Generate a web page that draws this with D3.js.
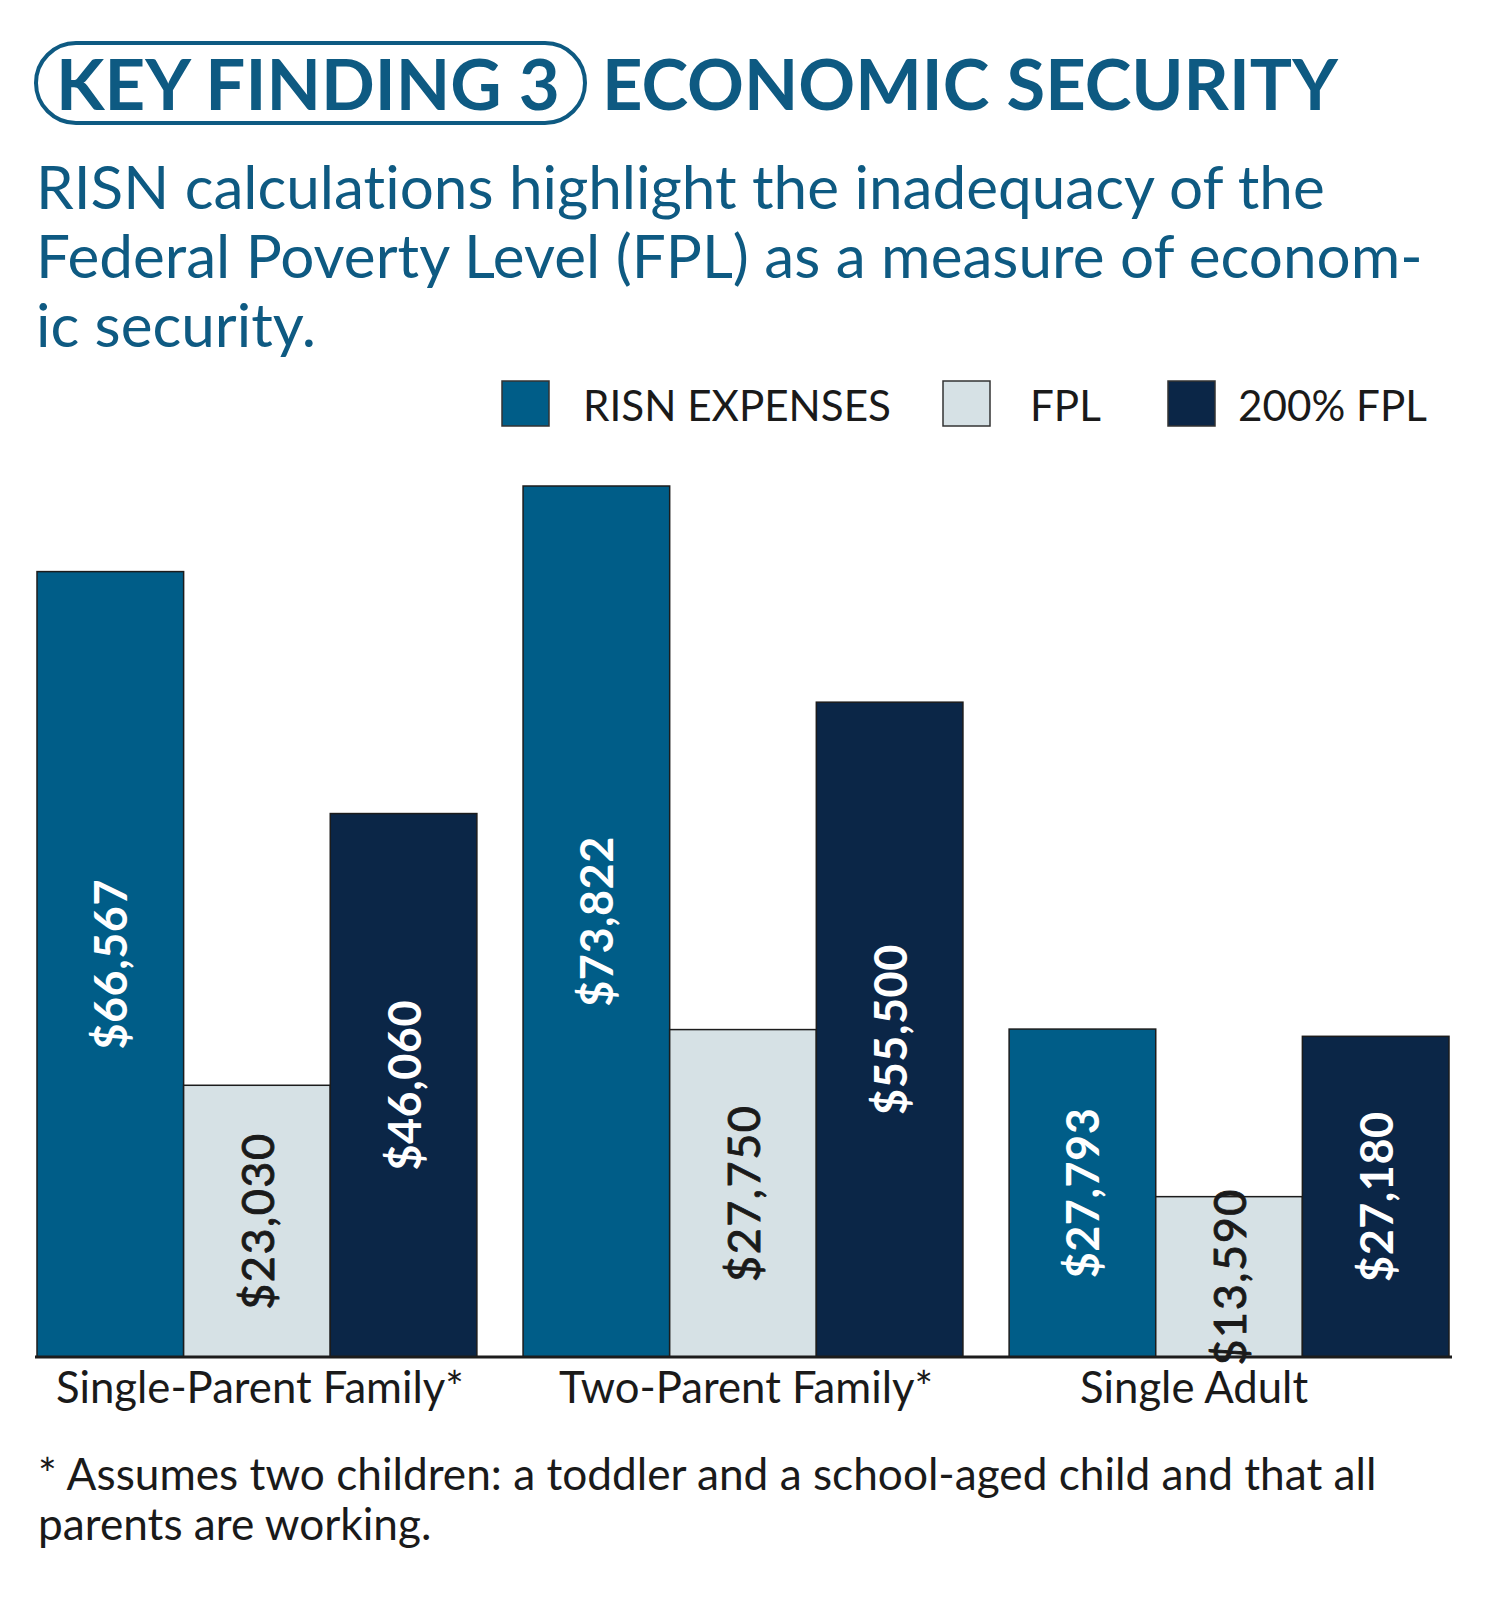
<!DOCTYPE html>
<html>
<head>
<meta charset="utf-8">
<script src="https://cdn.jsdelivr.net/npm/d3@7"></script>
<style>
  html, body { margin: 0; padding: 0; background: #fff; }
  svg { display: block; font-family: Lato, "Open Sans", sans-serif; font-variant-ligatures: none; }
</style>
</head>
<body>
<svg id="chart" width="1485" height="1600"></svg>
<script>
// data
const categories = ["Single-Parent Family*", "Two-Parent Family*", "Single Adult"];
const seriesNames = ["RISN EXPENSES", "FPL", "200% FPL"];
const risnExpenses = [66567, 73822, 27793];
const fpl = [23030, 27750, 13590];
const fpl200 = [46060, 55500, 27180];
const subtitleLines = [
  "RISN calculations highlight the inadequacy of the",
  "Federal Poverty Level (FPL) as a measure of econom-",
  "ic security."
];
const footnoteLines = [
  "* Assumes two children: a toddler and a school-aged child and that all",
  "parents are working."
];

const colors = ["#005d88", "#d6e1e5", "#0b2647"];
const teal = "#0e5a82";
const svg = d3.select("#chart");

// scale a text's font-size so it spans the given width
function fit(sel, width) {
  const fs = parseFloat(sel.attr("font-size"));
  const w = sel.node().getComputedTextLength();
  const nfs = fs * width / w;
  sel.attr("font-size", nfs);
  return nfs;
}

// ---- heading
svg.append("rect")
  .attr("x", 36).attr("y", 43).attr("width", 549).attr("height", 80)
  .attr("rx", 40).attr("fill", "none").attr("stroke", teal).attr("stroke-width", 4);
const k = svg.append("text").attr("x", 56).attr("y", 110)
  .attr("font-size", 76).attr("font-weight", 700).attr("fill", teal)
  .text("KEY FINDING 3");
fit(k, 504);
const eco = svg.append("text").attr("x", 602).attr("y", 110)
  .attr("font-size", 76).attr("font-weight", 700).attr("fill", teal)
  .text("ECONOMIC SECURITY");
fit(eco, 736);

const sub = svg.append("g").attr("fill", teal);
const subT = sub.selectAll("text").data(subtitleLines).join("text")
  .attr("x", 36).attr("y", (d, i) => 209 + i * 69)
  .attr("font-size", 58)
  .text(d => d);
const subSize = fit(d3.select(subT.nodes()[1]), 1387);
subT.attr("font-size", subSize);

// ---- legend
const legX = [502, 943, 1168];
const textX = [583, 1030, 1238];
const leg = svg.append("g");
leg.selectAll("rect").data(seriesNames).join("rect")
  .attr("x", (d, i) => legX[i]).attr("y", 381)
  .attr("width", 47).attr("height", 45)
  .attr("fill", (d, i) => colors[i]).attr("stroke", "#333").attr("stroke-width", 1.5);
const legT = leg.selectAll("text").data(seriesNames).join("text")
  .attr("x", (d, i) => textX[i]).attr("y", 421)
  .attr("font-size", 44).attr("fill", "#1a1a1a")
  .text(d => d);
const legSize = fit(d3.select(legT.nodes()[0]), 308);
legT.attr("font-size", legSize);

// ---- bars
const table = categories.map((c, i) => ({
  cat: c,
  values: [risnExpenses[i], fpl[i], fpl200[i]]
}));

const x0 = d3.scaleBand().domain(categories).range([37, 1449]).paddingInner(0.095);
const x1 = d3.scaleBand().domain(seriesNames).range([0, x0.bandwidth()]);
const y = d3.scaleLinear().domain([0, d3.max(risnExpenses)]).range([1357, 486]);

const groups = svg.append("g").selectAll("g").data(table).join("g")
  .attr("transform", d => `translate(${x0(d.cat)},0)`);

const cells = groups.selectAll("g").data(d => d.values.map((v, i) => ({ name: seriesNames[i], v, i })))
  .join("g");

cells.append("rect")
  .attr("x", d => x1(d.name))
  .attr("y", d => y(d.v))
  .attr("width", x1.bandwidth())
  .attr("height", d => y(0) - y(d.v))
  .attr("fill", d => colors[d.i])
  .attr("stroke", "#1c1c1c").attr("stroke-width", 1.5);

cells.append("text")
  .attr("transform", d => `translate(${x1(d.name) + x1.bandwidth() / 2},${(y(d.v) + y(0)) / 2}) rotate(-90)`)
  .attr("text-anchor", "middle").attr("dominant-baseline", "central")
  .attr("font-size", 45)
  .attr("font-weight", d => d.i === 1 ? 400 : 700)
  .attr("letter-spacing", d => d.i === 1 ? 1.5 : 0.5)
  .attr("fill", d => d.i === 1 ? "#1a1a1a" : "#fff")
  .attr("stroke", d => d.i === 1 ? "#1a1a1a" : "none")
  .attr("stroke-width", 0.9)
  .text(d => d3.format("$,")(d.v));

// baseline
svg.append("line")
  .attr("x1", 35).attr("x2", 1452).attr("y1", y(0)).attr("y2", y(0))
  .attr("stroke", "#1c1c1c").attr("stroke-width", 3);

// category labels
const nudge = [3, 3, -35];
const catT = svg.append("g").selectAll("text").data(categories).join("text")
  .attr("x", (d, i) => x0(d) + x0.bandwidth() / 2 + nudge[i])
  .attr("y", 1403)
  .attr("text-anchor", "middle")
  .attr("font-size", 44).attr("fill", "#1a1a1a")
  .text(d => d);
const catSize = fit(d3.select(catT.nodes()[0]), 408);
catT.attr("font-size", catSize);

// footnote
const foot = svg.append("g").selectAll("text").data(footnoteLines).join("text")
  .attr("x", 38).attr("y", (d, i) => 1490 + i * 50)
  .attr("font-size", 42).attr("fill", "#1a1a1a")
  .text(d => d);
const footSize = fit(d3.select(foot.nodes()[0]), 1339);
foot.attr("font-size", footSize);
</script>
</body>
</html>
